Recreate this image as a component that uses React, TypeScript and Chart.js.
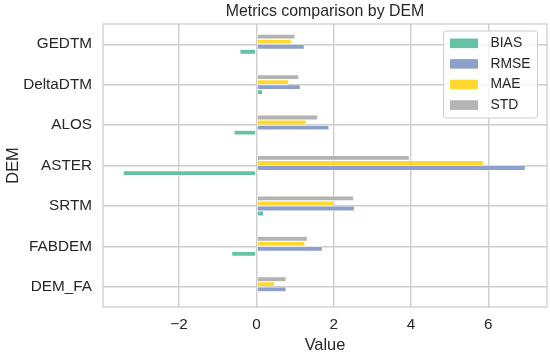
import React, { useEffect, useRef } from "react";
import { Chart, registerables } from "chart.js";

Chart.register(...registerables);

const categories = ["GEDTM", "DeltaDTM", "ALOS", "ASTER", "SRTM", "FABDEM", "DEM_FA"];
const biasValues = [-0.43, 0.16, -0.58, -3.45, 0.19, -0.64, 0.01];
const rmseValues = [1.24, 1.14, 1.88, 6.96, 2.54, 1.71, 0.77];
const maeValues = [0.91, 0.84, 1.29, 5.88, 2.0, 1.26, 0.47];
const stdValues = [1.0, 1.1, 1.59, 3.96, 2.52, 1.32, 0.77];
const xTicks = [-2, 0, 2, 4, 6];
const seriesNames = ["BIAS", "RMSE", "MAE", "STD"];
const seriesColors = ["#66c2a5", "#8da0cb", "#ffd92f", "#b3b3b3"];
const titleText = "Metrics comparison by DEM";
const xLabel = "Value";
const yLabel = "DEM";

const FONT = "'Liberation Sans', Arial, sans-serif";
const TEXT = "#262626";
const GRID = "#cccccc";

const decorPlugin = {
  id: "decor",
  afterDraw(chart: any) {
    const { ctx, chartArea } = chart;
    const { left, right, top, bottom } = chartArea;
    ctx.save();
    // frame (spines)
    ctx.strokeStyle = GRID;
    ctx.lineWidth = 1.25;
    ctx.strokeRect(left, top, right - left, bottom - top);
    // title
    ctx.fillStyle = TEXT;
    ctx.textAlign = "center";
    ctx.textBaseline = "middle";
    ctx.font = `15.9px ${FONT}`;
    ctx.fillText(titleText, (left + right) / 2, 11.5);
    // x label
    ctx.font = `16.4px ${FONT}`;
    ctx.fillText(xLabel, (left + right) / 2, 345);
    // y label
    ctx.save();
    ctx.translate(13, (top + bottom) / 2);
    ctx.rotate(-Math.PI / 2);
    ctx.fillText(yLabel, 0, 0);
    ctx.restore();
    // legend
    const bx = 443.5, by = 31, bw = 94, bh = 87, r = 3;
    ctx.beginPath();
    ctx.moveTo(bx + r, by);
    ctx.lineTo(bx + bw - r, by);
    ctx.quadraticCurveTo(bx + bw, by, bx + bw, by + r);
    ctx.lineTo(bx + bw, by + bh - r);
    ctx.quadraticCurveTo(bx + bw, by + bh, bx + bw - r, by + bh);
    ctx.lineTo(bx + r, by + bh);
    ctx.quadraticCurveTo(bx, by + bh, bx, by + bh - r);
    ctx.lineTo(bx, by + r);
    ctx.quadraticCurveTo(bx, by, bx + r, by);
    ctx.closePath();
    ctx.fillStyle = "rgba(255,255,255,0.8)";
    ctx.fill();
    ctx.strokeStyle = GRID;
    ctx.lineWidth = 1;
    ctx.stroke();
    ctx.font = `13.9px ${FONT}`;
    ctx.textAlign = "left";
    seriesNames.forEach((name, i) => {
      const cy = 43.3 + i * 20.6;
      ctx.fillStyle = seriesColors[i];
      ctx.fillRect(450, cy - 4.8, 28, 9.6);
      ctx.fillStyle = TEXT;
      ctx.fillText(name, 490.5, cy);
    });
    ctx.restore();
  },
};

export default function App() {
  const canvasRef = useRef<HTMLCanvasElement | null>(null);

  useEffect(() => {
    const canvas = canvasRef.current;
    if (!canvas) return;
    const valuesBySeries: Record<string, number[]> = {
      BIAS: biasValues,
      RMSE: rmseValues,
      MAE: maeValues,
      STD: stdValues,
    };
    // dataset 0 is drawn at the top of each group -> reverse order
    const order = [3, 2, 1, 0];
    const datasets = order.map((i) => ({
      label: seriesNames[i],
      data: valuesBySeries[seriesNames[i]],
      backgroundColor: seriesColors[i],
      borderColor: "#ffffff",
      borderWidth: 0.6,
      borderSkipped: false,
      categoryPercentage: 0.5,
      barPercentage: 1.0,
    }));
    const chart = new Chart(canvas, {
      type: "bar",
      data: { labels: categories, datasets },
      plugins: [decorPlugin],
      options: {
        indexAxis: "y",
        animation: false,
        responsive: false,
        maintainAspectRatio: false,
        layout: { padding: { top: 24, right: 3, left: 0, bottom: 0 } },
        plugins: {
          legend: { display: false },
          title: { display: false },
          tooltip: { enabled: false },
        },
        scales: {
          x: {
            type: "linear",
            min: -3.97,
            max: 7.52,
            afterBuildTicks: (scale: any) => {
              scale.ticks = xTicks.map((v) => ({ value: v }));
            },
            afterFit: (scale: any) => {
              scale.height = 48;
            },
            grid: { color: GRID, lineWidth: 1.4, drawTicks: false },
            border: { display: false },
            ticks: {
              padding: 9,
              color: TEXT,
              font: { family: FONT, size: 15.3 },
              callback: (v: any) => (v < 0 ? "\u2212" + Math.abs(v) : String(v)),
            },
          },
          y: {
            type: "category",
            offset: true,
            afterFit: (scale: any) => {
              scale.width = 103;
            },
            grid: { color: GRID, lineWidth: 1.4, drawTicks: false, offset: false },
            border: { display: false },
            ticks: {
              padding: 11,
              color: TEXT,
              font: { family: FONT, size: 15.3 },
            },
          },
        },
      },
    } as any);
    return () => chart.destroy();
  }, []);

  return (
    <div style={{ position: "fixed", left: 0, top: 0, width: 550, height: 355, background: "#fff" }}>
      <canvas ref={canvasRef} width={550} height={355} style={{ width: 550, height: 355 }} />
    </div>
  );
}
